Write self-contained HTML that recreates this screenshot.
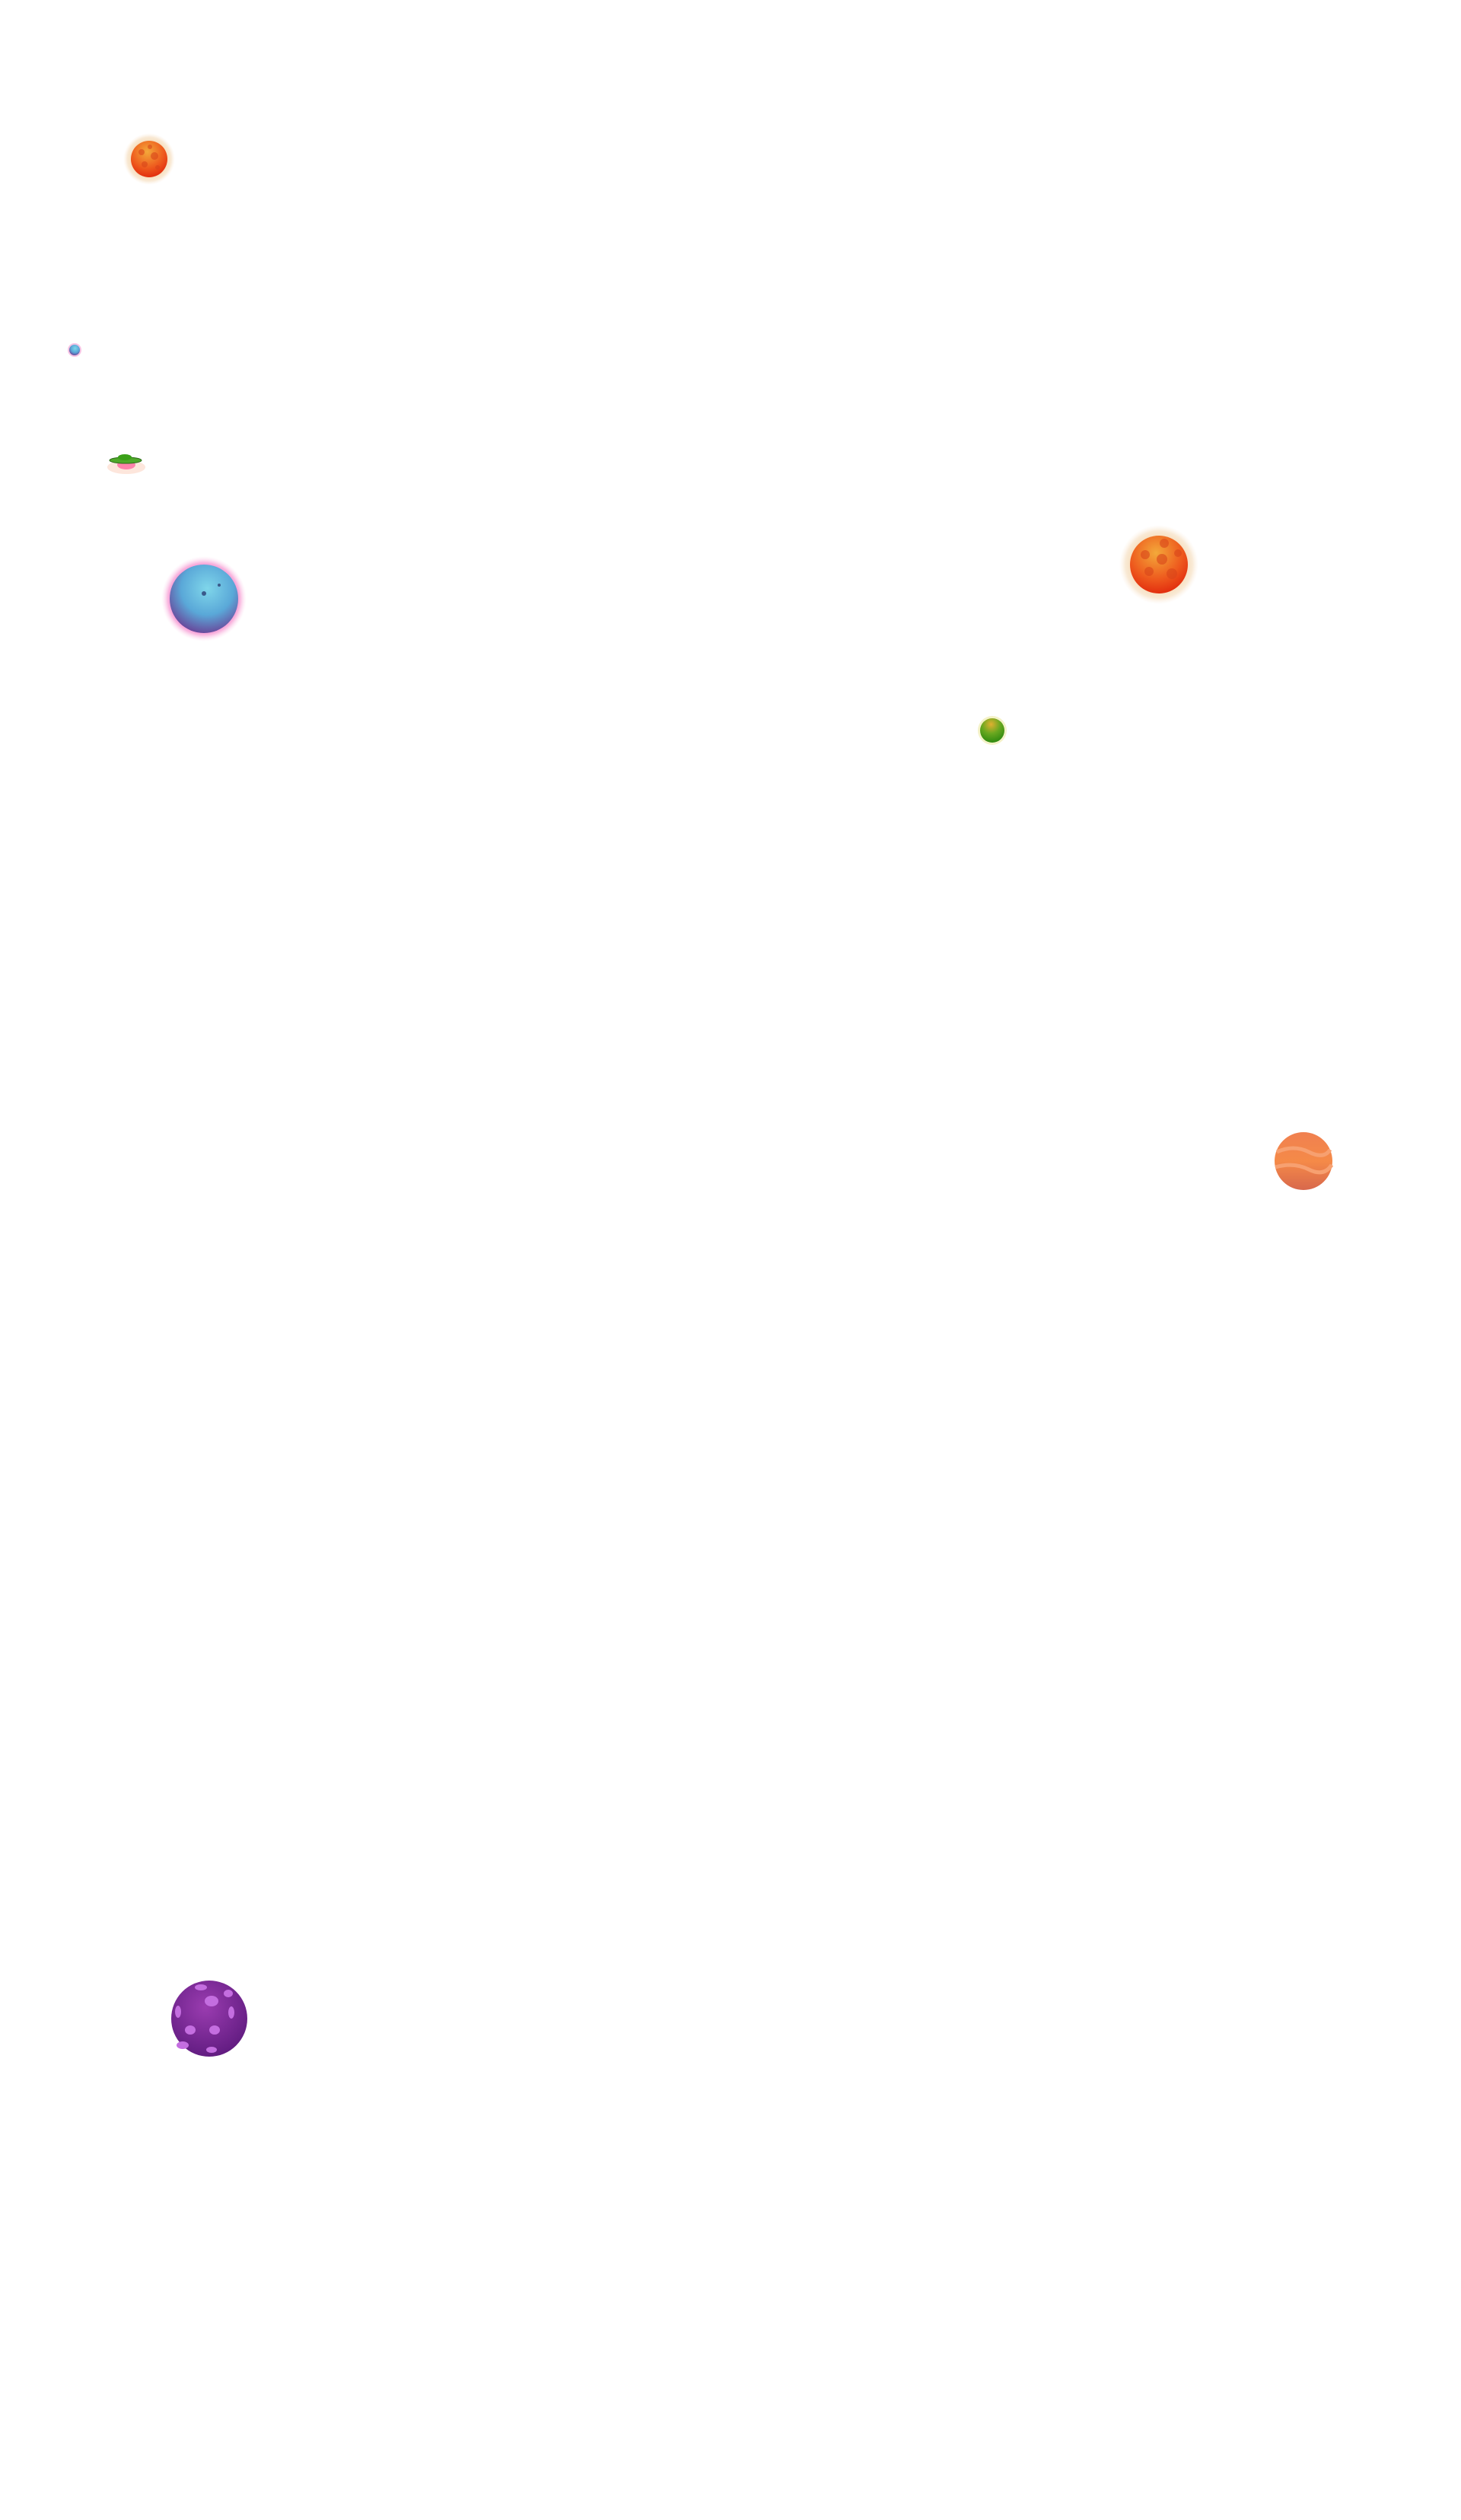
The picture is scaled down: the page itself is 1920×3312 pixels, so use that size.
<!DOCTYPE html>
<html><head><meta charset="utf-8"><style>
html,body{margin:0;padding:0;background:#fff;width:1920px;height:3312px;overflow:hidden}
svg{display:block}
</style></head><body>
<svg width="1920" height="3312" viewBox="0 0 1920 3312" xmlns="http://www.w3.org/2000/svg">
<defs>
<radialGradient id="glowO"><stop offset="0.65" stop-color="#f6dcb8"/><stop offset="0.85" stop-color="#f9ead6"/><stop offset="1" stop-color="#fdf3e8" stop-opacity="0"/></radialGradient>
<radialGradient id="glowP"><stop offset="0.7" stop-color="#f070c8"/><stop offset="0.85" stop-color="#f9b8e0"/><stop offset="1" stop-color="#fde6f4" stop-opacity="0"/></radialGradient>
<radialGradient id="lava" cx="0.45" cy="0.3" r="0.75"><stop offset="0" stop-color="#f3a93a"/><stop offset="0.6" stop-color="#ee5a1e"/><stop offset="1" stop-color="#e0260c"/></radialGradient>
<radialGradient id="blue" cx="0.55" cy="0.35" r="0.7"><stop offset="0" stop-color="#7fd6ea"/><stop offset="0.55" stop-color="#5aa8d8"/><stop offset="1" stop-color="#6a3a92"/></radialGradient>
<radialGradient id="green" cx="0.45" cy="0.25" r="0.75"><stop offset="0" stop-color="#e0b030"/><stop offset="0.5" stop-color="#6aa820"/><stop offset="1" stop-color="#2f8a10"/></radialGradient>
<linearGradient id="stripe" x1="0" y1="0" x2="0" y2="1"><stop offset="0" stop-color="#f08050"/><stop offset="0.5" stop-color="#f58a48"/><stop offset="1" stop-color="#d8684c"/></linearGradient>
<radialGradient id="purp" cx="0.45" cy="0.35" r="0.7"><stop offset="0" stop-color="#9a3cb0"/><stop offset="1" stop-color="#5e1a7e"/></radialGradient>
</defs>
<circle cx="196" cy="209" r="34" fill="url(#glowO)"/>
<circle cx="196" cy="209" r="24" fill="url(#lava)"/>
<g fill="#d9451a" opacity="0.6"><circle cx="186" cy="200" r="4"/><circle cx="203" cy="205" r="5"/><circle cx="190" cy="216" r="4"/><circle cx="207" cy="220" r="3"/><circle cx="197" cy="193" r="3"/></g>
<circle cx="98" cy="460" r="9" fill="#f7c4e4"/>
<circle cx="98" cy="460" r="7" fill="url(#blue)"/>
<ellipse cx="166" cy="614" rx="25" ry="9" fill="#fde6dc"/>
<ellipse cx="166" cy="611" rx="12" ry="6" fill="#ff6aa0" opacity="0.8"/>
<ellipse cx="165" cy="605" rx="21" ry="4" fill="#4fa82a" stroke="#2e6a1a" stroke-width="1"/>
<ellipse cx="164" cy="601" rx="9" ry="4" fill="#3aa018"/>
<circle cx="268" cy="787" r="56" fill="url(#glowP)"/>
<circle cx="268" cy="787" r="45" fill="url(#blue)"/>
<circle cx="268" cy="780" r="3" fill="#3a5a8a"/><circle cx="288" cy="769" r="2" fill="#3a5a8a"/>
<circle cx="1523" cy="742" r="52" fill="url(#glowO)"/>
<circle cx="1523" cy="742" r="38" fill="url(#lava)"/>
<g fill="#d9451a" opacity="0.6"><circle cx="1505" cy="729" r="6"/><circle cx="1527" cy="735" r="7"/><circle cx="1510" cy="751" r="6"/><circle cx="1540" cy="754" r="7"/><circle cx="1530" cy="714" r="6"/><circle cx="1548" cy="727" r="5"/></g>
<circle cx="1304" cy="960" r="19" fill="#f4f2c8"/>
<circle cx="1304" cy="960" r="16" fill="url(#green)"/>
<circle cx="1713" cy="1526" r="38" fill="url(#stripe)"/>
<path d="M1678 1514 Q1700 1504 1720 1514 T1748 1511" stroke="#f7a070" stroke-width="5" fill="none"/>
<path d="M1676 1534 Q1700 1527 1720 1537 T1750 1531" stroke="#f7a070" stroke-width="5" fill="none"/>
<circle cx="275" cy="2653" r="50" fill="url(#purp)"/>
<g fill="#c46ee0"><ellipse cx="278" cy="2630" rx="9" ry="7"/><ellipse cx="250" cy="2668" rx="7" ry="6"/><ellipse cx="282" cy="2668" rx="7" ry="6"/><ellipse cx="264" cy="2612" rx="8" ry="4"/><ellipse cx="234" cy="2644" rx="4" ry="8"/><ellipse cx="304" cy="2645" rx="4" ry="8"/><ellipse cx="240" cy="2688" rx="8" ry="5"/><ellipse cx="278" cy="2694" rx="7" ry="4"/><ellipse cx="300" cy="2620" rx="6" ry="5"/></g>
</svg>
</body></html>
